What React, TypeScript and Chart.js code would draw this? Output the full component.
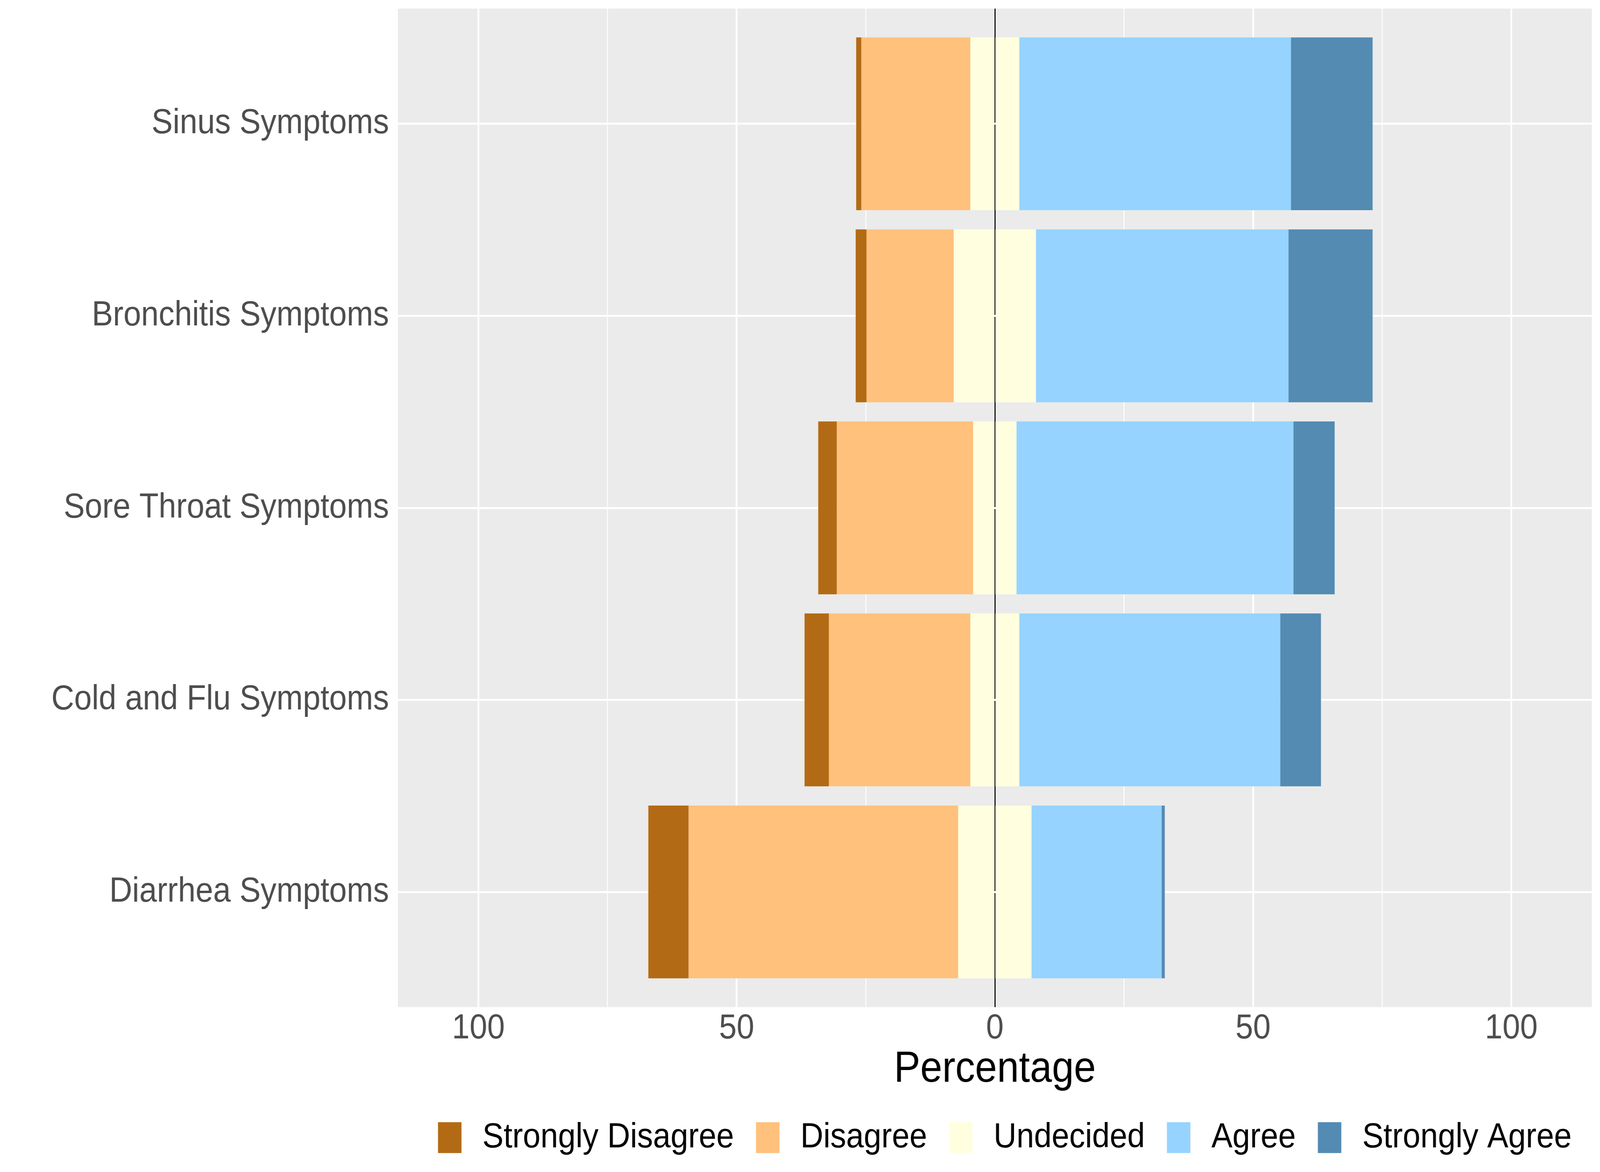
import React, { useEffect, useRef } from 'react';
import { Chart, registerables } from 'chart.js';

Chart.register(...registerables);

// ---- data (percentages) ----
const categories = [
  'Sinus Symptoms',
  'Bronchitis Symptoms',
  'Sore Throat Symptoms',
  'Cold and Flu Symptoms',
  'Diarrhea Symptoms',
];
const stronglyDisagree = [1.0, 2.1, 3.6, 4.7, 7.8];
const disagree = [21.1, 16.9, 26.4, 27.4, 52.2];
const undecided = [9.5, 15.9, 8.4, 9.5, 14.2];
const agree = [52.6, 48.9, 53.6, 50.5, 25.2];
const stronglyAgree = [15.8, 16.3, 8.0, 7.9, 0.6];

const responseLabels = ['Strongly Disagree', 'Disagree', 'Undecided', 'Agree', 'Strongly Agree'];
const responseColors = ['#B36A14', '#FFC17C', '#FFFFDF', '#96D3FF', '#538BB3'];
const xTickValues = [-100, -75, -50, -25, 0, 25, 50, 75, 100];

const FONT = '"Liberation Sans", Arial, Helvetica, sans-serif';
const CHART_W = 4500;
const CHART_H = 3000;

const backgroundPlugin = {
  id: 'ggBackground',
  beforeDraw(chart: any) {
    const { ctx, chartArea } = chart;
    ctx.save();
    ctx.fillStyle = '#FFFFFF';
    ctx.fillRect(0, 0, chart.width, chart.height);
    ctx.fillStyle = '#EBEBEB';
    ctx.fillRect(chartArea.left, chartArea.top, chartArea.right - chartArea.left, chartArea.bottom - chartArea.top);
    ctx.restore();
  },
};

const legendPlugin = {
  id: 'ggLegend',
  afterDraw(chart: any) {
    const { ctx, chartArea } = chart;
    const keyW = 66;
    const keyH = 79;
    const keyGap = 59;
    const itemGap = 62;
    ctx.save();
    ctx.font = `89px ${FONT}`;
    const widths = responseLabels.map((t) => ctx.measureText(t).width);
    const total =
      widths.reduce((acc, w) => acc + keyW + keyGap + w, 0) + itemGap * (responseLabels.length - 1);
    let x = (chartArea.left + chartArea.right) / 2 + 28 - total / 2;
    const cy = chartArea.bottom + 334;
    ctx.textBaseline = 'middle';
    ctx.textAlign = 'left';
    responseLabels.forEach((label, i) => {
      ctx.fillStyle = responseColors[i];
      ctx.fillRect(x, cy - keyH / 2, keyW, keyH);
      ctx.fillStyle = '#000000';
      ctx.fillText(label, x + keyW + keyGap, cy);
      x += keyW + keyGap + widths[i] + itemGap;
    });
    ctx.restore();
  },
};

export default function App() {
  const ref = useRef<HTMLCanvasElement>(null);

  useEffect(() => {
    const canvas = ref.current;
    if (!canvas) return;
    document.documentElement.style.overflow = 'hidden';
    document.body.style.margin = '0';
    document.body.style.overflow = 'hidden';

    const fit = () => {
      const vw = window.innerWidth || CHART_W;
      const vh = window.innerHeight || CHART_H;
      canvas.style.width = vw + 'px';
      canvas.style.height = vh + 'px';
    };
    fit();

    const pts = (vals: number[], f: (v: number) => number) => vals.map((v, i) => ({ x: f(v), y: i }));
    const ds = (label: string, data: { x: number; y: number }[], color: string) => ({
      label,
      data,
      backgroundColor: color,
      borderWidth: 0,
      barPercentage: 0.9,
      categoryPercentage: 1.0,
    });

    // negative side stacks outward from zero: half of Undecided, Disagree, Strongly Disagree
    const datasets = [
      ds(responseLabels[2], pts(undecided, (v) => -v / 2), responseColors[2]),
      ds(responseLabels[1], pts(disagree, (v) => -v), responseColors[1]),
      ds(responseLabels[0], pts(stronglyDisagree, (v) => -v), responseColors[0]),
      ds(responseLabels[2], pts(undecided, (v) => v / 2), responseColors[2]),
      ds(responseLabels[3], pts(agree, (v) => v), responseColors[3]),
      ds(responseLabels[4], pts(stronglyAgree, (v) => v), responseColors[4]),
    ];

    const chart = new Chart(canvas, {
      type: 'bar',
      data: { datasets } as any,
      plugins: [backgroundPlugin, legendPlugin],
      options: {
        indexAxis: 'y',
        animation: false,
        responsive: false,
        devicePixelRatio: 1,
        layout: { padding: { top: 22, right: 23, bottom: 0, left: 0 } },
        plugins: {
          legend: { display: false },
          tooltip: { enabled: false },
        },
        scales: {
          x: {
            type: 'linear',
            stacked: true,
            min: -115.6,
            max: 115.6,
            afterBuildTicks: (axis: any) => {
              axis.ticks = xTickValues.map((v) => ({ value: v }));
            },
            afterFit: (axis: any) => {
              axis.height = 422;
              axis.paddingLeft = 0;
              axis.paddingRight = 0;
            },
            border: { display: false },
            grid: {
              drawTicks: false,
              color: (c: any) => (c.tick && c.tick.value === 0 ? '#000000' : '#FFFFFF'),
              lineWidth: (c: any) => {
                const v = c.tick ? c.tick.value : 1;
                if (v === 0) return 3;
                return v % 50 === 0 ? 5 : 2.6;
              },
            },
            ticks: {
              autoSkip: false,
              maxRotation: 0,
              padding: 11,
              color: '#4D4D4D',
              font: { family: FONT, size: 89, lineHeight: 1 },
              callback: (v: any) => (Number(v) % 50 === 0 ? String(Math.abs(Number(v))) : ''),
            },
            title: {
              display: true,
              text: 'Percentage',
              color: '#000000',
              font: { family: FONT, size: 111, lineHeight: 1 },
              padding: { top: 0, bottom: 206 },
            },
          },
          y: {
            type: 'linear',
            stacked: true,
            reverse: true,
            min: -0.6,
            max: 4.6,
            offset: false,
            afterBuildTicks: (axis: any) => {
              axis.ticks = categories.map((_, i) => ({ value: i }));
            },
            afterFit: (axis: any) => {
              axis.width = 1119;
              axis.paddingTop = 0;
              axis.paddingBottom = 0;
            },
            border: { display: false },
            grid: { offset: false, drawTicks: false, color: '#FFFFFF', lineWidth: 5 },
            ticks: {
              autoSkip: false,
              padding: 25,
              color: '#4D4D4D',
              font: { family: FONT, size: 89, lineHeight: 1 },
              callback: (v: any) => categories[Number(v)] ?? '',
            },
          },
        },
      } as any,
    });
    fit();

    return () => chart.destroy();
  }, []);

  return (
    <div style={{ position: 'fixed', left: 0, top: 0, right: 0, bottom: 0, background: '#FFFFFF', overflow: 'hidden' }}>
      <canvas ref={ref} width={CHART_W} height={CHART_H} style={{ display: 'block' }} />
    </div>
  );
}
